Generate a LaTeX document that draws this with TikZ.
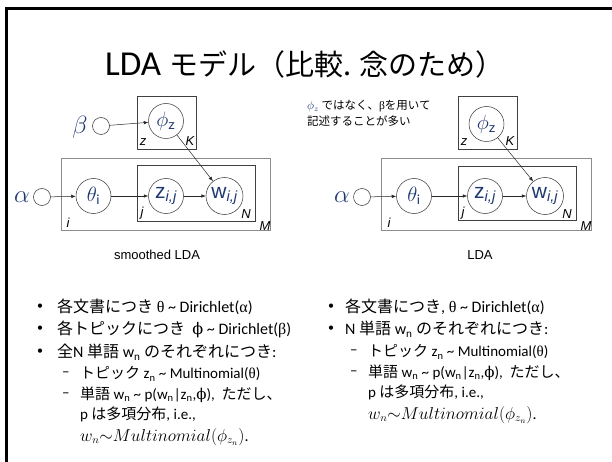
\documentclass[tikz,border=0pt]{standalone}
\usepackage{fontspec}
\setmainfont{Carlito}
\newfontfamily\jp{Noto Sans CJK JP}
\newfontfamily\arialf{Liberation Sans}
\newfontfamily\symf{Liberation Serif}
\newfontfamily\djs{DejaVu Serif}
\usetikzlibrary{arrows.meta}
\definecolor{navy}{RGB}{31,56,112}
\tikzset{
  rv/.style={circle, draw=black!80, line width=0.5pt, fill=white, minimum size=35pt, inner sep=0pt, text=navy},
  hp/.style={circle, draw=black!80, line width=0.5pt, fill=white, minimum size=17pt, inner sep=0pt},
  platek/.style={draw=black!75, line width=0.7pt, rectangle, inner sep=0pt, anchor=north west},
  platem/.style={draw=black!45, line width=1.1pt, rectangle, inner sep=0pt, anchor=north west},
  edge/.style={-{Latex[length=4.5pt,width=3.5pt]}, line width=0.5pt, black!85},
  lbl/.style={font=\arialf\itshape\fontsize{13}{13}\selectfont, inner sep=0pt},
  greek/.style={text=navy, inner sep=0pt, font=\fontsize{24}{24}\selectfont},
  bul/.style={anchor=west, inner sep=0pt, font=\fontsize{12}{12}\selectfont},
  txt/.style={anchor=west, inner sep=0pt, font=\fontsize{16}{16}\selectfont},
  txts/.style={anchor=west, inner sep=0pt, font=\fontsize{15}{15}\selectfont},
  mathtxt/.style={anchor=west, inner sep=0pt, font=\fontsize{16}{16}\selectfont},
  captxt/.style={inner sep=0pt, font=\arialf\fontsize{13}{13}\selectfont},
}
\newcommand{\tl}{\textasciitilde{}}
\begin{document}
\begin{tikzpicture}[x=1pt,y=-1pt]
\useasboundingbox (0,0) rectangle (612,462);
% frame
\draw[line width=3.2pt, black!45] (6.5,462) -- (6.5,8.5) -- (612,8.5);
\draw[line width=2.2pt, black] (6.5,462) -- (6.5,8.5) -- (612,8.5);
% title
\node[inner sep=0pt] (title) at (305,64) {\fontsize{35}{35}\selectfont LDA {\jp\fontsize{29}{29}\selectfont モデル（比較. 念のため）}};

% ===== left diagram
\node[platek, minimum width=59pt, minimum height=53pt] (lK) at (137,96) {};
\node[platem, minimum width=209pt, minimum height=72pt] (lM) at (61,158) {};
\node[platek, minimum width=118pt, minimum height=56pt] (lN) at (137,165) {};
\node[greek] (lbeta) at (80,127) {$\beta$};
\node[hp] (lb) at (101,126) {};
\node[rv] (lphi) at (166,121) {\fontsize{22}{22}\selectfont$\phi_{\mathsf{z}}$};
\node[greek] (lalpha) at (22,197) {$\alpha$};
\node[hp] (la) at (42,197) {};
\node[rv] (ltheta) at (93.5,196) {\fontsize{20}{20}\selectfont$\theta_{\mathrm{i}}$};
\node[rv] (lz) at (166,196) {\arialf\fontsize{21}{21}\selectfont z\textsubscript{\itshape i,j}};
\node[rv, minimum size=37pt] (lw) at (224.5,196) {\arialf\fontsize{21}{21}\selectfont w\textsubscript{\itshape i,j}};
\node[lbl] (lKz) at (143,142) {z};
\node[lbl] (lKK) at (190,141) {K};
\node[lbl] (lMi) at (68,223) {i};
\node[lbl] (lMM) at (265,226) {M};
\node[lbl] (lNj) at (142,213) {j};
\node[lbl] (lNN) at (246,214) {N};
\draw[edge] (lb) -- (lphi);
\draw[edge] (la) -- (ltheta);
\draw[edge] (ltheta) -- (lz);
\draw[edge] (lz) -- (lw);
\draw[edge] (lphi) -- (lw);
\node[captxt] (lcap) at (157,255) {smoothed LDA};

% ===== right diagram
\node[platek, minimum width=59pt, minimum height=53pt] (rK) at (458,96) {};
\node[platem, minimum width=210pt, minimum height=72pt] (rM) at (381,158) {};
\node[platek, minimum width=118pt, minimum height=54pt] (rN) at (458,166) {};
\node[rv] (rphi) at (486.5,124) {\fontsize{22}{22}\selectfont$\phi_{\mathsf{z}}$};
\node[greek] (ralpha) at (342,197) {$\alpha$};
\node[hp] (ra) at (362,197) {};
\node[rv] (rtheta) at (414,196) {\fontsize{20}{20}\selectfont$\theta_{\mathrm{i}}$};
\node[rv] (rz) at (485,196) {\arialf\fontsize{21}{21}\selectfont z\textsubscript{\itshape i,j}};
\node[rv, minimum size=37pt] (rw) at (545,196) {\arialf\fontsize{21}{21}\selectfont w\textsubscript{\itshape i,j}};
\node[lbl] (rKz) at (464,142) {z};
\node[lbl] (rKK) at (510,141) {K};
\node[lbl] (rMi) at (389,223) {i};
\node[lbl] (rMM) at (586,226) {M};
\node[lbl] (rNj) at (463,213) {j};
\node[lbl] (rNN) at (567,214) {N};
\draw[edge] (ra) -- (rtheta);
\draw[edge] (rtheta) -- (rz);
\draw[edge] (rz) -- (rw);
\draw[edge] (rphi) -- (rw);
\node[captxt] (rcap) at (480,255) {LDA};
\node[anchor=north west, inner sep=0pt, align=left, font=\fontsize{11.5}{16}\selectfont] (note) at (307,100)
  {\textcolor{navy}{$\phi_z$} {\jp ではなく、}{\symf β}{\jp を用いて}\\{\jp 記述することが多い}};

% ===== left text
\node[bul] (lb1) at (37,307) {•};
\node[txt] (lt1) at (57,307) {{\jp 各文書につき} {\symf θ} \tl{} Dirichlet({\symf α})};
\node[bul] (lb2) at (37,329) {•};
\node[txt] (lt2) at (57,329) {{\jp 各トピックにつき}\ \ {\djs ϕ} \tl{} Dirichlet({\symf β})};
\node[bul] (lb3) at (37,352) {•};
\node[txt] (lt3) at (57,352) {{\jp 全}N {\jp 単語} w\textsubscript{n} {\jp のそれぞれにつき}:};
\node[txts] (ld4) at (62,374) {–};
\node[txts] (lt4) at (80,374) {{\jp トピック} z\textsubscript{n} \tl{} Multinomial({\symf θ})};
\node[txts] (ld5) at (62,395) {–};
\node[txts] (lt5) at (80,395) {{\jp 単語} w\textsubscript{n} \tl{} p(w\textsubscript{n}|z\textsubscript{n},{\djs ϕ}),\ \ {\jp ただし、}};
\node[txts] (lt6) at (80,414) {p {\jp は多項分布}, i.e.,};
\node[mathtxt] (lt7) at (80,437) {$w_n{\sim}Multinomial(\phi_{z_n})$.};

% ===== right text
\node[bul] (rb1) at (328,307) {•};
\node[txt] (rt1) at (345,307) {{\jp 各文書につき}, {\symf θ} \tl{} Dirichlet({\symf α})};
\node[bul] (rb2) at (328,329) {•};
\node[txt] (rt2) at (345,329) {N {\jp 単語} w\textsubscript{n} {\jp のそれぞれにつき}:};
\node[txts] (rd3) at (350,352) {–};
\node[txts] (rt3) at (368,352) {{\jp トピック} z\textsubscript{n} \tl{} Multinomial({\symf θ})};
\node[txts] (rd4) at (350,373) {–};
\node[txts] (rt4) at (368,373) {{\jp 単語} w\textsubscript{n} \tl{} p(w\textsubscript{n}|z\textsubscript{n},{\djs ϕ}),\ \ {\jp ただし、}};
\node[txts] (rt5) at (368,392) {p {\jp は多項分布}, i.e.,};
\node[mathtxt] (rt6) at (368,415) {$w_n{\sim}Multinomial(\phi_{z_n})$.};
\end{tikzpicture}
\end{document}
